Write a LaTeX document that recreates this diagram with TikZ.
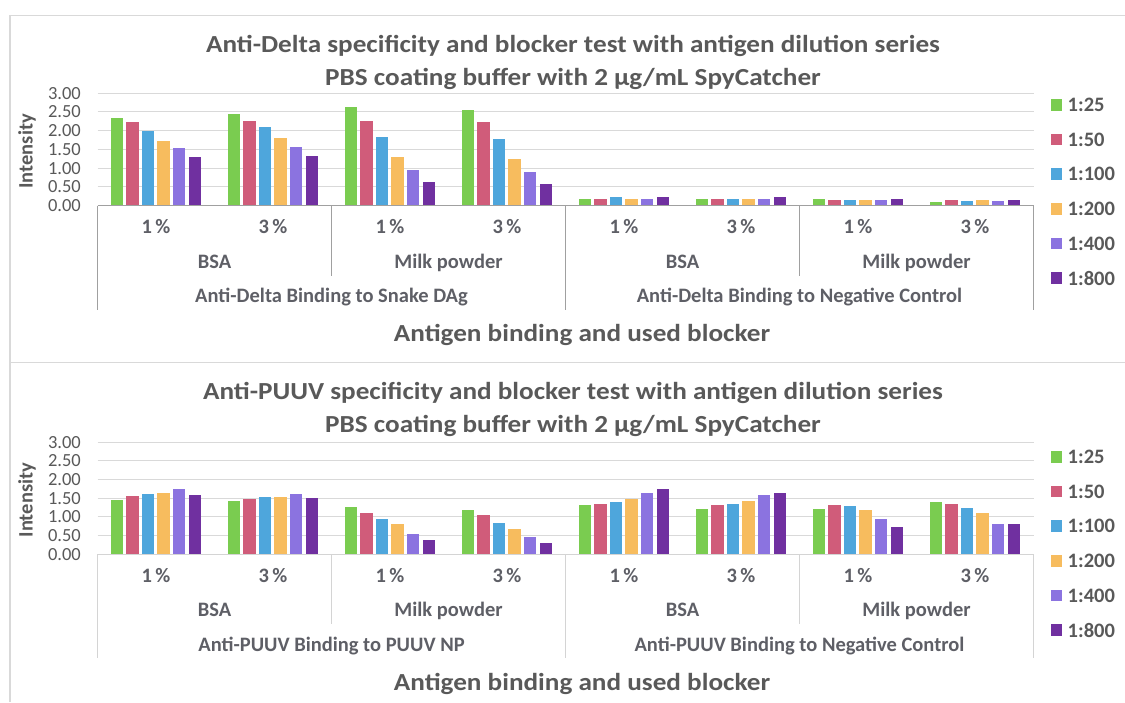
\documentclass[tikz,border=0pt]{standalone}
\usepackage{fontspec}
\setmainfont{Carlito}
\newfontfamily\widefont{Carlito}[FakeStretch=1.11]
\definecolor{cA}{HTML}{7ACC50}
\definecolor{cB}{HTML}{D05C7A}
\definecolor{cC}{HTML}{4EA6DC}
\definecolor{cD}{HTML}{F7BC5E}
\definecolor{cE}{HTML}{8B73E0}
\definecolor{cF}{HTML}{7030A0}
\definecolor{ink}{HTML}{595959}
\definecolor{catink}{HTML}{5E5F66}
\definecolor{gridc}{HTML}{D9D9D9}
\definecolor{axdark}{HTML}{A0A0A0}
\definecolor{axlight}{HTML}{D4D4D4}
\tikzset{
  s0/.style={fill=cA}, s1/.style={fill=cB}, s2/.style={fill=cC},
  s3/.style={fill=cD}, s4/.style={fill=cE}, s5/.style={fill=cF},
  gridline/.style={draw=gridc, line width=1pt},
  frameline/.style={draw=gridc, line width=1.2pt},
  ticklbl/.style={font=\fontsize{18.5}{21}\selectfont, text=ink, anchor=east, inner sep=0pt},
  cattxt/.style={font=\bfseries\fontsize{20.5}{24}\selectfont, text=catink, anchor=base, inner sep=0pt},
  titletxt/.style={font=\widefont\bfseries\fontsize{24.5}{28}\selectfont, text=ink, anchor=base, inner sep=0pt},
  axtitle/.style={font=\widefont\bfseries\fontsize{24.5}{28}\selectfont, text=ink, anchor=base, inner sep=0pt},
  ytitle/.style={font=\bfseries\fontsize{20.5}{24}\selectfont, text=ink, rotate=90, inner sep=0pt},
  legtxt/.style={font=\bfseries\fontsize{20.5}{24}\selectfont, text=ink, anchor=west, inner sep=0pt},
}
% #1 prefix, #2 y of zero line, #3 pixels per unit, #4 axis colour,
% #5 y of first legend entry, #6 48 bar values, #7/#8 antigen group labels
\newcommand{\chartpanel}[8]{%
  \foreach \k in {1,...,6}
    \draw[gridline] (97.5,{#2-\k*0.5*#3}) -- (1033.5,{#2-\k*0.5*#3});
  \foreach \k/\t in {0/0.00,1/0.50,2/1.00,3/1.50,4/2.00,5/2.50,6/3.00}
    \node[ticklbl] (#1tick\k) at (81,{#2-\k*0.5*#3}) {\t};
  \node[ytitle] (#1ytitle) at (27,{#2-1.45*#3}) {Intensity};
  \foreach \v [count=\i from 0] in {#6} {
    \pgfmathtruncatemacro\g{int(\i/6)}
    \pgfmathtruncatemacro\s{mod(\i,6)}
    \pgfmathsetmacro\xl{97.5+\g*117+13+\s*15.6}
    \fill[s\s] (\xl,#2) rectangle ({\xl+12.4},{#2-\v*#3});
  }
  % category axis
  \draw[draw=#4, line width=1.1pt] (97.5,#2) -- (1033.5,#2);
  \foreach \xx in {97.5,565.5,1033.5}
    \draw[draw=#4, line width=1.1pt] (\xx,#2) -- (\xx,{#2+104});
  \foreach \xx in {331.5,799.5}
    \draw[draw=#4, line width=1.1pt] (\xx,#2) -- (\xx,{#2+70});
  \foreach \i in {0,...,7} {
    \pgfmathtruncatemacro\odd{mod(\i,2)}
    \ifnum\odd=0 \def\pct{1\,\%}\else\def\pct{3\,\%}\fi
    \node[cattxt] (#1pct\i) at ({97.5+\i*117+58.5},{#2+28}) {\pct};
  }
  \foreach \i/\b in {0/BSA,1/Milk powder,2/BSA,3/Milk powder}
    \node[cattxt] (#1blk\i) at ({97.5+\i*234+117},{#2+62.5}) {\b};
  \node[cattxt] (#1grpA) at (331.5,{#2+97}) {#7};
  \node[cattxt] (#1grpB) at (799.5,{#2+97}) {#8};
  \node[axtitle] (#1xtitle) at (582,{#2+136}) {Antigen binding and used blocker};
  % legend
  \foreach \l [count=\i from 0] in {1:25,1:50,1:100,1:200,1:400,1:800} {
    \fill[s\i] (1050.5,{#5+\i*34.6-5.8}) rectangle (1062,{#5+\i*34.6+5.8});
    \node[legtxt] (#1leg\i) at (1067.5,{#5+\i*34.6}) {\l};
  }
}

\begin{document}
\begin{tikzpicture}[x=1pt,y=-1pt]
\useasboundingbox (0,0) rectangle (1125,702);
\fill[white] (0,0) rectangle (1125,702);

% chart frames
\draw[frameline] (10,702) -- (10,15.5) -- (1125,15.5);
\draw[frameline] (10,362.5) -- (1125,362.5);

% upper chart
\node[titletxt] (tA1) at (573,52.5) {Anti-Delta specificity and blocker test with antigen dilution series};
\node[titletxt] (tA2) at (573,85) {PBS coating buffer with 2 µg/mL SpyCatcher};
\chartpanel{up}{205.7}{37.5}{axdark}{105}{%
  2.34,2.22,2.00,1.73,1.54,1.31,
  2.44,2.27,2.09,1.81,1.57,1.32,
  2.64,2.27,1.83,1.30,0.94,0.63,
  2.54,2.23,1.79,1.25,0.90,0.59,
  0.18,0.19,0.22,0.19,0.19,0.23,
  0.18,0.19,0.17,0.19,0.19,0.23,
  0.19,0.16,0.14,0.14,0.16,0.18,
  0.09,0.14,0.12,0.14,0.12,0.15}{Anti-Delta Binding to Snake DAg}{Anti-Delta Binding to Negative Control}

% lower chart
\node[titletxt] (tB1) at (573,399.5) {Anti-PUUV specificity and blocker test with antigen dilution series};
\node[titletxt] (tB2) at (573,432.5) {PBS coating buffer with 2 µg/mL SpyCatcher};
\chartpanel{lo}{554.3}{37.33}{axlight}{457}{%
  1.45,1.56,1.61,1.63,1.75,1.59,
  1.43,1.48,1.53,1.53,1.61,1.52,
  1.26,1.11,0.94,0.80,0.54,0.37,
  1.18,1.05,0.84,0.67,0.46,0.30,
  1.33,1.35,1.39,1.47,1.65,1.75,
  1.21,1.31,1.35,1.43,1.59,1.65,
  1.21,1.31,1.29,1.18,0.95,0.72,
  1.39,1.35,1.23,1.10,0.80,0.80}{Anti-PUUV Binding to PUUV NP}{Anti-PUUV Binding to Negative Control}
\end{tikzpicture}
\end{document}
